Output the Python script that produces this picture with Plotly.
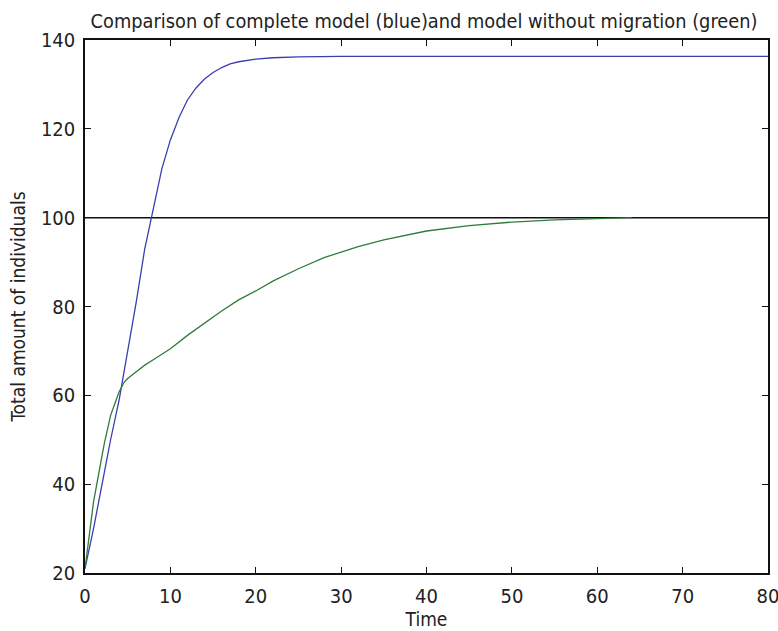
import plotly.graph_objects as go

# Complete model (blue)
t_blue = [0, 1, 2, 3, 4, 5, 6, 7, 8, 9, 10, 11, 12, 13, 14, 15, 16, 17, 18, 19, 20, 22, 25, 30, 40, 50, 60, 70, 80]
n_blue = [21, 30, 40, 50, 59, 70, 81, 93, 102, 111, 117.5, 122.5, 126.5, 129.2, 131.2, 132.7, 133.8, 134.6, 135.1, 135.4, 135.7, 136.0, 136.2, 136.3, 136.3, 136.3, 136.3, 136.3, 136.3]

# Model without migration (green)
t_green = [0, 1, 2, 2.3, 3, 4, 4.6, 5, 6, 7, 8, 9, 10, 12, 14, 16, 18, 20, 22, 25, 28, 30, 32, 35, 38, 40, 45, 50, 55, 60, 64]
n_green = [21, 36, 46.5, 49.5, 55.5, 60.8, 63, 63.8, 65.3, 66.8, 68, 69.2, 70.5, 73.5, 76.3, 79, 81.5, 83.5, 85.7, 88.5, 91, 92.3, 93.5, 95, 96.3, 97, 98.2, 99, 99.5, 99.8, 100]

# Reference level
t_ref = [0, 80]
n_ref = [100, 100]

x_ticks = [0, 10, 20, 30, 40, 50, 60, 70, 80]
y_ticks = [20, 40, 60, 80, 100, 120, 140]

FONT = "DejaVu Sans Condensed, Liberation Sans Narrow, Arial, sans-serif"

fig = go.Figure()
fig.add_trace(go.Scatter(x=t_ref, y=n_ref, mode="lines",
                         line=dict(color="#111111", width=1.5), showlegend=False))
fig.add_trace(go.Scatter(x=t_blue, y=n_blue, mode="lines",
                         line=dict(color="#3a3fb0", width=1.3), showlegend=False))
fig.add_trace(go.Scatter(x=t_green, y=n_green, mode="lines",
                         line=dict(color="#2e7d3a", width=1.3), showlegend=False))

axis_common = dict(showgrid=False, zeroline=False, showline=True, linecolor="#111111",
                   linewidth=1.5, mirror="ticks", ticks="inside", ticklen=6,
                   tickcolor="#111111", tickwidth=1.3, automargin=False,
                   ticklabeloverflow="allow",
                   tickfont=dict(family=FONT, size=20, color="#222222"))

fig.update_xaxes(range=[0, 80], tickvals=x_ticks, ticklabelstandoff=4,
                 title=dict(text="Time", font=dict(family=FONT, size=19, color="#222222"), standoff=2),
                 **axis_common)
fig.update_yaxes(range=[20, 140], tickvals=y_ticks, ticklabelstandoff=4,
                 title=dict(text="Total amount of individuals", font=dict(family=FONT, size=19, color="#222222"), standoff=10),
                 **axis_common)

fig.update_layout(
    width=778, height=631,
    margin=dict(l=85, r=10, t=40, b=58),
    paper_bgcolor="white", plot_bgcolor="white",
    title=dict(text="Comparison of complete model (blue)and model without migration (green)",
               font=dict(family=FONT, size=19.8, color="#222222"),
               x=0.545, xref="container", xanchor="center",
               y=0.967, yref="container", yanchor="middle"),
)

fig.write_html("out.html", config={"displayModeBar": False},
               post_script="document.body.style.margin='0';")
